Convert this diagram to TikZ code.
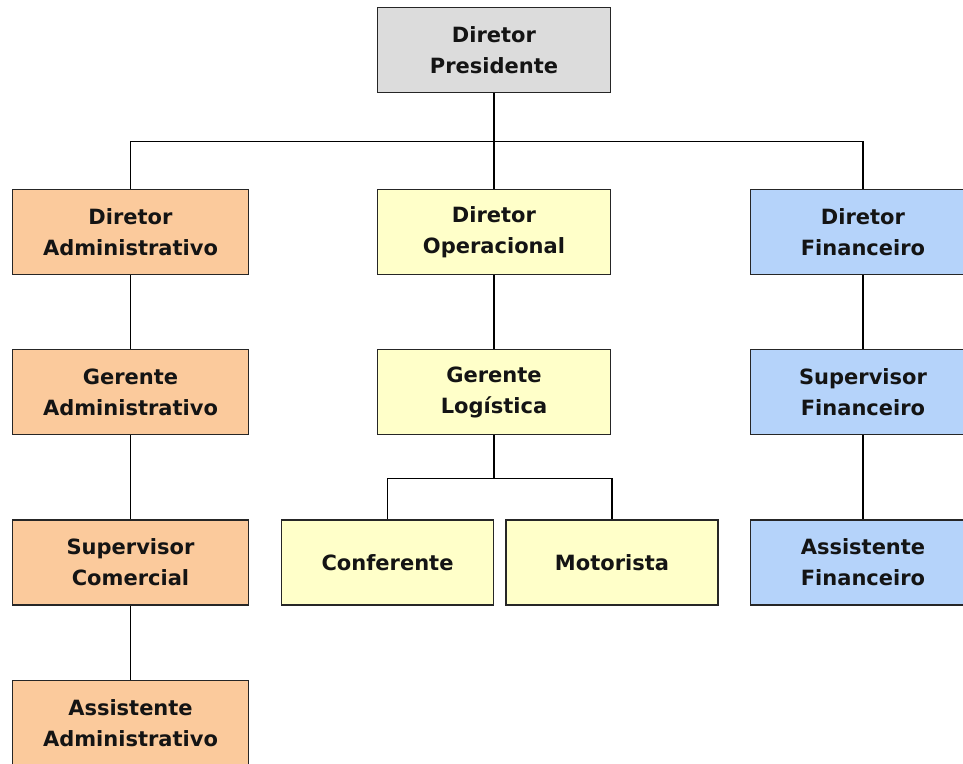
\documentclass[tikz,border=0pt]{standalone}
\usepackage{fontspec}
\setmainfont{DejaVu Sans}
\usepackage{tikz}
\usetikzlibrary{positioning}

\definecolor{PresGray}{RGB}{220,220,220}
\definecolor{AdmOrange}{RGB}{251,202,156}
\definecolor{OpeYellow}{RGB}{255,255,201}
\definecolor{FinBlue}{RGB}{181,211,250}

\begin{document}
\begin{tikzpicture}[x=1pt,y=-1pt,node distance=74pt,line width=1.3pt,
  box/.style={draw=black!85,rectangle,minimum height=85pt,inner sep=0pt,align=center,
              font=\fontsize{21}{31}\selectfont\bfseries,text=black!92},
  pres/.style={box,fill=PresGray,minimum width=233pt},
  adm/.style={box,fill=AdmOrange,minimum width=236pt},
  ope/.style={box,fill=OpeYellow,minimum width=233pt},
  log/.style={box,fill=OpeYellow,minimum width=212pt},
  fin/.style={box,fill=FinBlue,minimum width=225pt}]

\clip (0,0) rectangle (963,763);

\node[pres] (P) at (494,50) {Diretor\\Presidente};

\node[adm] (A1) at (130.5,232)     {Diretor\\Administrativo};
\node[adm] (A2) [below=of A1]      {Gerente\\Administrativo};
\node[adm] (A3) [below=84pt of A2] {Supervisor\\Comercial};
\node[adm] (A4) [below=of A3]      {Assistente\\Administrativo};

\node[ope] (O1) at (494,232)       {Diretor\\Operacional};
\node[ope] (O2) [below=of O1]      {Gerente\\Logística};
\node[log] (OL1) at (387.5,562.5)  {Conferente};
\node[log] (OL2) at (612,562.5)    {Motorista};

\node[fin] (F1) at (863,232)       {Diretor\\Financeiro};
\node[fin] (F2) [below=of F1]      {Supervisor\\Financeiro};
\node[fin] (F3) [below=84pt of F2] {Assistente\\Financeiro};

\draw (P.south) -- (O1.north)
      (P.south) -- +(0,48) -| (A1.north)
      (P.south) -- +(0,48) -| (F1.north);

\draw (A1) -- (A2) (A2) -- (A3) (A3) -- (A4);
\draw (O1) -- (O2);
\draw (F1) -- (F2) (F2) -- (F3);

\draw (O2.south) -- +(0,43) -| (OL1.north)
      (O2.south) -- +(0,43) -| (OL2.north);

\end{tikzpicture}
\end{document}
